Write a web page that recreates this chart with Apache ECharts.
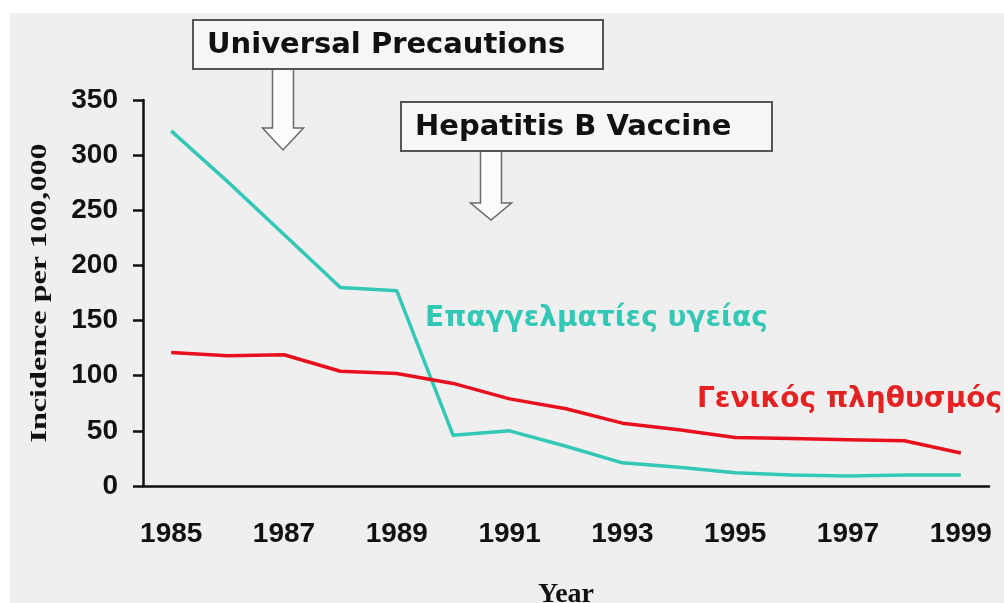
<!DOCTYPE html>
<html>
<head>
<meta charset="utf-8">
<script src="https://cdn.jsdelivr.net/npm/echarts@6/dist/echarts.min.js"></script>
<style>
  html, body { margin: 0; padding: 0; background: #fff; }
  #chart { width: 1004px; height: 603px; }
</style>
</head>
<body>
<div id="chart"></div>
<script>
// data
var years = ["1985", "1986", "1987", "1988", "1989", "1990", "1991", "1992",
             "1993", "1994", "1995", "1996", "1997", "1998", "1999"];
var healthWorkers = [322, 276, 228, 180, 177, 46, 50, 36, 21, 17, 12, 10, 9, 10, 10];
var generalPop = [121, 118, 119, 104, 102, 93, 79, 70, 57, 51, 44, 43, 42, 41, 30];
var yTicks = { min: 0, max: 350, step: 50 };

var teal = "#33c8b6";
var red = "#e8101e";
var tickFont = "Liberation Sans";

var chart = echarts.init(document.getElementById("chart"));

// hollow down arrow under an annotation box
function arrow(cx, top, headY, tip) {
  return {
    type: "polygon",
    shape: {
      points: [
        [cx - 10.5, top], [cx + 10.5, top], [cx + 10.5, headY], [cx + 20.5, headY],
        [cx, tip], [cx - 20.5, headY], [cx - 10.5, headY]
      ]
    },
    style: { fill: "#fbfbfb", stroke: "#6a6a6a", lineWidth: 1.5 }
  };
}

function box(x, y, w, h, text) {
  return [
    {
      type: "rect",
      shape: { x: x, y: y, width: w, height: h },
      style: { fill: "#f6f6f6", stroke: "#555", lineWidth: 2 }
    },
    {
      type: "text",
      x: x + 14, y: y + h / 2 + 1,
      style: {
        text: text, fill: "#111",
        fontFamily: "DejaVu Sans", fontWeight: "bold", fontSize: 29,
        align: "left", verticalAlign: "middle"
      }
    }
  ];
}

chart.setOption({
  backgroundColor: "#efefef",
  animation: false,
  grid: { left: 143, right: 15, top: 100, bottom: 117, outerBoundsMode: "none", containLabel: false },
  xAxis: {
    type: "category",
    data: years,
    boundaryGap: true,
    name: "Year",
    nameLocation: "middle",
    nameGap: 95,
    nameTextStyle: { fontFamily: "Liberation Serif", fontWeight: "bold", fontSize: 28, color: "#111" },
    axisLine: { lineStyle: { color: "#111", width: 2.5 } },
    axisTick: { interval: 0, length: 11, lineStyle: { color: "#111", width: 2.5 } },
    axisLabel: {
      interval: 1, margin: 34,
      fontFamily: tickFont, fontWeight: "bold", fontSize: 28, color: "#111"
    },
    splitLine: { show: false }
  },
  yAxis: {
    type: "value",
    min: yTicks.min, max: yTicks.max, interval: yTicks.step,
    axisLine: { show: true, lineStyle: { color: "#111", width: 2.5 } },
    axisTick: { show: true, length: 10, lineStyle: { color: "#111", width: 2.5 } },
    axisLabel: {
      margin: 25,
      fontFamily: tickFont, fontWeight: "bold", fontSize: 28, color: "#111"
    },
    splitLine: { show: false }
  },
  series: [
    {
      name: "Επαγγελματίες υγείας",
      type: "line",
      data: healthWorkers,
      symbol: "none",
      lineStyle: { color: teal, width: 3.5, join: "round" },
      z: 3
    },
    {
      name: "Γενικός πληθυσμός",
      type: "line",
      data: generalPop,
      symbol: "none",
      lineStyle: { color: red, width: 3.5, join: "round" },
      z: 4
    }
  ],
  graphic: [
    // white margin of the scanned slide
    { type: "rect", shape: { x: 0, y: 0, width: 1004, height: 13 }, style: { fill: "#fff" }, silent: true },
    { type: "rect", shape: { x: 0, y: 0, width: 10, height: 603 }, style: { fill: "#fff" }, silent: true },
    // y axis title, stretched like in the original
    {
      type: "text",
      x: 40, y: 293,
      rotation: Math.PI / 2,
      scaleX: 1.34,
      style: {
        text: "Incidence per 100,000", fill: "#111",
        fontFamily: "Liberation Serif", fontWeight: "bold", fontSize: 24,
        align: "center", verticalAlign: "middle"
      }
    },
    arrow(283, 69, 128, 150),
    arrow(491, 151, 203, 220)
  ].concat(box(193, 20, 410, 49, "Universal Precautions"))
   .concat(box(401, 102, 371, 49, "Hepatitis B Vaccine"))
   .concat([
    {
      type: "text",
      x: 425, y: 319,
      style: {
        text: "Επαγγελματίες υγείας", fill: teal,
        fontFamily: "DejaVu Sans", fontWeight: "bold", fontSize: 28,
        align: "left", verticalAlign: "middle"
      }
    },
    {
      type: "text",
      x: 697, y: 400,
      style: {
        text: "Γενικός πληθυσμός", fill: "#e52222",
        fontFamily: "DejaVu Sans", fontWeight: "bold", fontSize: 28,
        align: "left", verticalAlign: "middle"
      }
    }
  ])
});
</script>
</body>
</html>
